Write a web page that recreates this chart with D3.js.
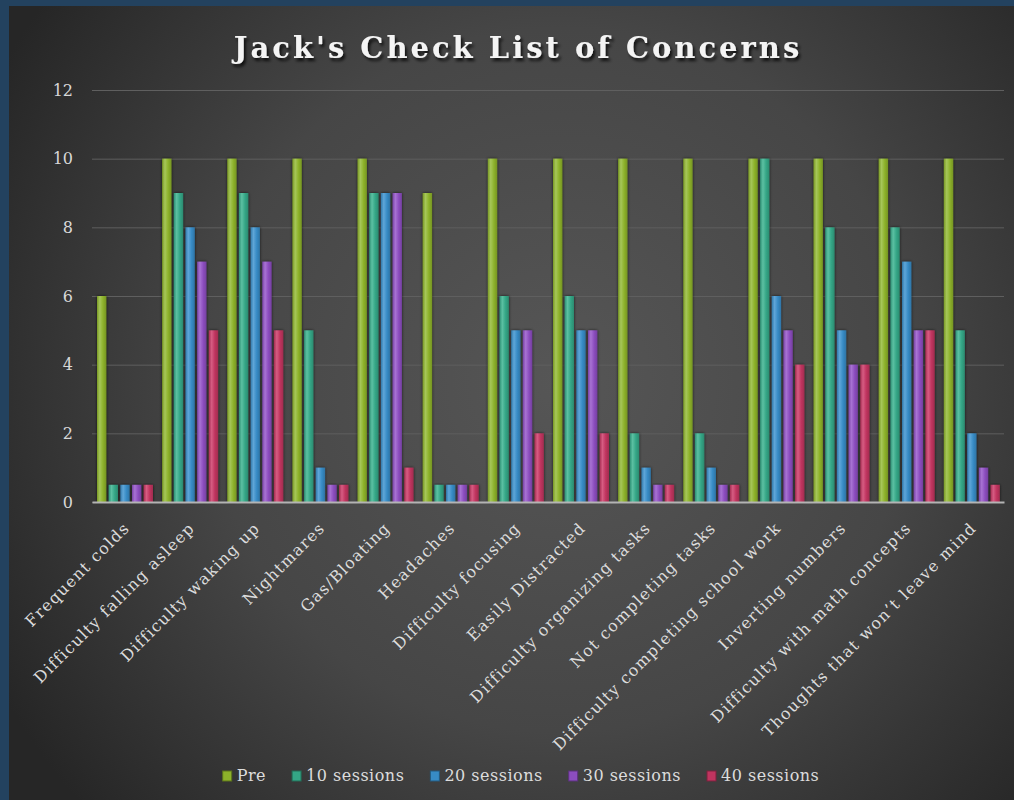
<!DOCTYPE html>
<html>
<head>
<meta charset="utf-8">
<script src="https://cdn.jsdelivr.net/npm/d3@7"></script>
<style>
  html, body { margin: 0; padding: 0; background: #23425f; }
  svg { display: block; }
  text { font-family: "DejaVu Serif", serif; }
</style>
</head>
<body>
<svg id="chart" width="1014" height="800"></svg>
<script>
// Concern categories (x axis)
const categories = [
  "Frequent colds",
  "Difficulty falling asleep",
  "Difficulty waking up",
  "Nightmares",
  "Gas/Bloating",
  "Headaches",
  "Difficulty focusing",
  "Easily Distracted",
  "Difficulty organizing tasks",
  "Not completing tasks",
  "Difficulty completing school work",
  "Inverting numbers",
  "Difficulty with math concepts",
  "Thoughts that won\u2019t leave mind"
];

// Series names
const seriesNames = ["Pre", "10 sessions", "20 sessions", "30 sessions", "40 sessions"];

// Scores per series, one per category
const pre        = [6, 10, 10, 10, 10, 9, 10, 10, 10, 10, 10, 10, 10, 10];
const sessions10 = [0.5, 9, 9, 5, 9, 0.5, 6, 6, 2, 2, 10, 8, 8, 5];
const sessions20 = [0.5, 8, 8, 1, 9, 0.5, 5, 5, 1, 1, 6, 5, 7, 2];
const sessions30 = [0.5, 7, 7, 0.5, 9, 0.5, 5, 5, 0.5, 0.5, 5, 4, 5, 1];
const sessions40 = [0.5, 5, 5, 0.5, 1, 0.5, 2, 2, 0.5, 0.5, 4, 4, 5, 0.5];

// Y axis ticks
const yTicks = [0, 2, 4, 6, 8, 10, 12];

const seriesValues = [pre, sessions10, sessions20, sessions30, sessions40];
const seriesColors = ["#8db22a", "#34a686", "#378bc5", "#8c4dbf", "#c0345f"];
const seriesLight  = ["#a6c65a", "#5cc0a2", "#5fa6d8", "#a873d3", "#d65c82"];

const svg = d3.select("#chart");
const W = 1014, H = 800;
const defs = svg.append("defs");

// Panel background: soft radial light in the middle
const bg = defs.append("radialGradient").attr("id", "panelBg")
  .attr("gradientUnits", "userSpaceOnUse")
  .attr("cx", 560).attr("cy", 380).attr("r", 640);
bg.append("stop").attr("offset", "0%").attr("stop-color", "#565656");
bg.append("stop").attr("offset", "55%").attr("stop-color", "#464646");
bg.append("stop").attr("offset", "100%").attr("stop-color", "#262626");

// Title drop shadow
const tShadow = defs.append("filter").attr("id", "titleShadow")
  .attr("x", "-10%").attr("y", "-40%").attr("width", "120%").attr("height", "180%");
tShadow.append("feDropShadow").attr("dx", 2).attr("dy", 3).attr("stdDeviation", 1.6)
  .attr("flood-color", "#000").attr("flood-opacity", 0.75);

// Bar shadow
const bShadow = defs.append("filter").attr("id", "barShadow")
  .attr("x", "-60%").attr("y", "-10%").attr("width", "220%").attr("height", "120%");
bShadow.append("feDropShadow").attr("dx", 0).attr("dy", 0).attr("stdDeviation", 1.6)
  .attr("flood-color", "#000").attr("flood-opacity", 0.7);

// Per-series bar gradient (light centre, darker edges)
seriesColors.forEach((c, i) => {
  const g = defs.append("linearGradient").attr("id", "barGrad" + i)
    .attr("x1", "0%").attr("x2", "100%").attr("y1", "0%").attr("y2", "0%");
  g.append("stop").attr("offset", "0%").attr("stop-color", d3.color(c).darker(0.4));
  g.append("stop").attr("offset", "30%").attr("stop-color", seriesLight[i]);
  g.append("stop").attr("offset", "65%").attr("stop-color", c);
  g.append("stop").attr("offset", "100%").attr("stop-color", d3.color(c).darker(0.5));
});

// Frame and panel
svg.append("rect").attr("width", W).attr("height", H).attr("fill", "#23425f");
svg.append("rect").attr("x", 9).attr("y", 6).attr("width", W - 9).attr("height", H - 6)
  .attr("fill", "url(#panelBg)");

// Title
svg.append("text")
  .attr("x", 518).attr("y", 58)
  .attr("text-anchor", "middle")
  .attr("font-size", 29).attr("font-weight", "bold")
  .attr("letter-spacing", 3)
  .attr("fill", "#f4f4f4")
  .attr("filter", "url(#titleShadow)")
  .text("Jack's Check List of Concerns");

// Scales
const plotLeft = 92, plotRight = 1004, plotTop = 90, plotBottom = 502;
const x = d3.scaleBand().domain(categories).range([plotLeft, plotRight]).paddingInner(0).paddingOuter(0);
const xs = d3.scaleBand().domain(seriesNames)
  .range([5, 5 + 56]).paddingInner(0.2).paddingOuter(0);
const y = d3.scaleLinear().domain([0, 12]).range([plotBottom, plotTop]);

// Gridlines + y labels
const yAxis = d3.axisLeft(y).tickValues(yTicks).tickSize(-(plotRight - plotLeft)).tickPadding(19)
  .tickFormat(d3.format("d"));
const gy = svg.append("g").attr("transform", `translate(${plotLeft},0)`).call(yAxis);
gy.select(".domain").remove();
gy.selectAll(".tick line").attr("stroke", "#5f5f5f").attr("stroke-width", 1);
gy.selectAll(".tick text").attr("fill", "#d8d8d8").attr("font-size", 16)
  .attr("font-family", "DejaVu Serif, serif");

// Bars
const groups = svg.append("g").selectAll("g")
  .data(categories).join("g")
  .attr("transform", d => `translate(${x(d)},0)`);

groups.selectAll("rect")
  .data((d, ci) => seriesNames.map((s, si) => ({ s, si, v: seriesValues[si][ci] })))
  .join("rect")
  .attr("x", d => xs(d.s))
  .attr("width", xs.bandwidth())
  .attr("y", d => y(d.v))
  .attr("height", d => y(0) - y(d.v))
  .attr("fill", d => `url(#barGrad${d.si})`)
  .attr("filter", "url(#barShadow)");

// X axis line and rotated category labels
const xAxis = d3.axisBottom(x).tickSize(0).tickPadding(0);
const gx = svg.append("g").attr("transform", `translate(0,${plotBottom})`).call(xAxis);
gx.select(".domain").attr("stroke", "#b4b4b4").attr("stroke-width", 2);
gx.selectAll(".tick text")
  .attr("fill", "#dcdcdc").attr("font-size", 16)
  .attr("font-family", "DejaVu Serif, serif")
  .attr("letter-spacing", 1.25)
  .attr("text-anchor", "end")
  .attr("dy", 0)
  .attr("transform", "translate(6,27) rotate(-45)");

// Legend
const legend = svg.append("g");
let lx = 0;
seriesNames.forEach((s, i) => {
  const item = legend.append("g").attr("transform", `translate(${lx},0)`);
  item.append("rect").attr("x", 0).attr("y", -10).attr("width", 9).attr("height", 10)
    .attr("fill", seriesColors[i]).attr("stroke", d3.color(seriesColors[i]).darker(1.2)).attr("stroke-width", 1);
  const t = item.append("text").attr("x", 14).attr("y", 0)
    .attr("fill", "#dcdcdc").attr("font-size", 16).attr("letter-spacing", 0.5).text(s);
  lx += 14 + t.node().getComputedTextLength() + 26;
});
const legendWidth = lx - 26;
legend.attr("transform", `translate(${521 - legendWidth / 2},781)`);
</script>
</body>
</html>
